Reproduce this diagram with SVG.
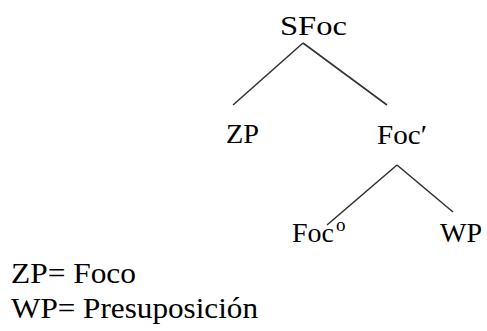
<svg xmlns="http://www.w3.org/2000/svg" width="487" height="331" viewBox="0 0 487 331">
<style>
.c{stroke:#333;stroke-width:1.6;fill:none}
</style>
<rect width="487" height="331" fill="#fff"/>
<g id="connectors">
<line class="c" x1="303" y1="43" x2="233" y2="105"/>
<line class="c" x1="303" y1="43" x2="387" y2="105"/>
<line class="c" x1="397" y1="165" x2="327" y2="225"/>
<line class="c" x1="397" y1="165" x2="453" y2="212"/>
</g>
<g font-family="'Liberation Serif', 'DejaVu Serif', 'Times New Roman', Times, serif" font-size="28" fill="#000">
<g id="SFoc"><text x="280" y="35" textLength="67" lengthAdjust="spacingAndGlyphs">SFoc</text></g>
<g id="ZP"><text x="226" y="143" textLength="33" lengthAdjust="spacingAndGlyphs">ZP</text></g>
<g id="FocBar"><text x="377" y="144" textLength="50" lengthAdjust="spacingAndGlyphs">Foc′</text></g>
<g id="Foc0"><text x="292" y="242">Foc<tspan font-size="19" dx="2" dy="-11">o</tspan></text></g>
<g id="WP"><text x="440" y="242" textLength="42" lengthAdjust="spacingAndGlyphs">WP</text></g>
<g id="legend" font-size="29">
<text x="11" y="283" textLength="125" lengthAdjust="spacingAndGlyphs">ZP= Foco</text>
<text x="11" y="318" textLength="247" lengthAdjust="spacingAndGlyphs">WP= Presuposición</text>
</g>
</g>
</svg>
